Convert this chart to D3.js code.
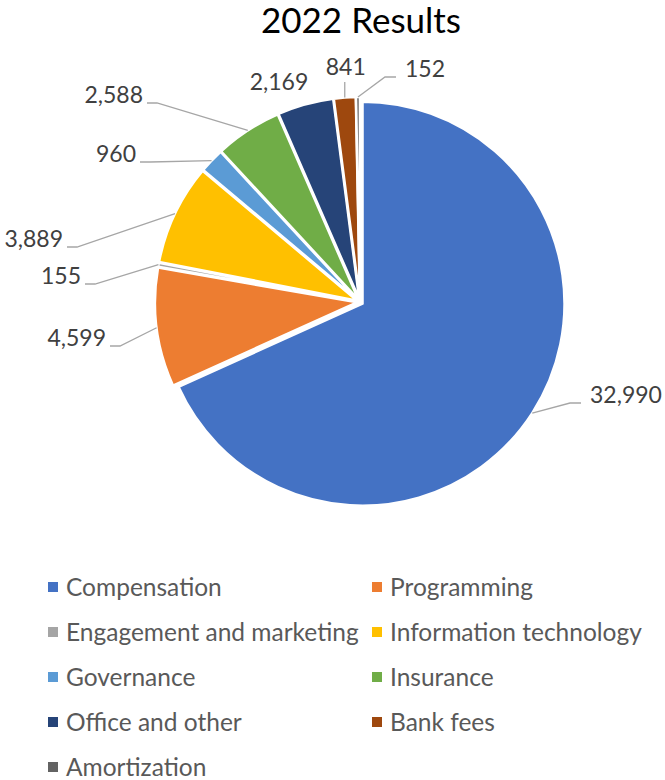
<!DOCTYPE html>
<html>
<head>
<title>2022 Results</title>
<script src="https://d3js.org/d3.v7.min.js"></script>
<style>
    body { margin: 0; background: #fff; }
    text { font-family: Lato, "Open Sans", sans-serif; }
</style>
</head>
<body>
<div id="chart"></div>
<script>
    // data
    const categories = ["Compensation", "Programming", "Engagement and marketing", "Information technology",
        "Governance", "Insurance", "Office and other", "Bank fees", "Amortization"];
    const values = [32990, 4599, 155, 3889, 960, 2588, 2169, 841, 152];
    const colors = ["#4472C4", "#ED7D31", "#A5A5A5", "#FFC000", "#5B9BD5", "#70AD47", "#264478", "#9E480E", "#636363"];

    // where each data label sits (leader elbow, side of text)
    const labelLayout = [
        { ex: 570, ey: 403, side: 1 },
        { ex: 120, ey: 346, side: -1 },
        { ex: 95, ey: 284, side: -1 },
        { ex: 77, ey: 247, side: -1 },
        { ex: 150, ey: 162, side: -1 },
        { ex: 157, ey: 103, side: -1 },
        { ex: 279, ey: 90, side: 0 },
        { ex: 345, ey: 82, side: 0 },
        { ex: 385, ey: 77, side: 1 }
    ];

    const width = 665, height = 780;
    const cx = 360, cy = 302, r = 202, explode = 3;

    const svg = d3.select("#chart").append("svg")
        .attr("width", width)
        .attr("height", height);

    svg.append("text")
        .attr("x", 361).attr("y", 33)
        .attr("text-anchor", "middle")
        .style("font-size", "35px")
        .attr("fill", "#000")
        .text("2022 Results");

    const pie = d3.pie().sort(null).value(d => d)(values);
    const arc = d3.arc().innerRadius(0).outerRadius(r);
    const fmt = d3.format(",");

    const g = svg.append("g").attr("transform", `translate(${cx},${cy})`);

    function offset(d) {
        const a = (d.startAngle + d.endAngle) / 2;
        return [Math.sin(a) * explode, -Math.cos(a) * explode];
    }

    g.selectAll("path.slice")
        .data(pie)
        .join("path")
        .attr("class", "slice")
        .attr("transform", d => `translate(${offset(d)})`)
        .attr("d", arc)
        .attr("fill", (d, i) => colors[i])
        .attr("stroke", "#fff")
        .attr("stroke-width", 2.5)
        .attr("stroke-linejoin", "round");

    // leader lines and labels
    pie.forEach((d, i) => {
        const a = (d.startAngle + d.endAngle) / 2;
        const o = offset(d);
        const sx = cx + o[0] + Math.sin(a) * r;
        const sy = cy + o[1] - Math.cos(a) * r;
        const L = labelLayout[i];
        let pts, tx, anchor;
        if (L.side === 1) {
            pts = [[sx, sy], [L.ex, L.ey], [L.ex + 11, L.ey]];
            tx = L.ex + 20; anchor = "start";
        } else if (L.side === -1) {
            pts = [[sx, sy], [L.ex, L.ey], [L.ex - 10, L.ey]];
            tx = L.ex - 14; anchor = "end";
        } else {
            pts = null;
            tx = L.ex; anchor = "middle";
        }
        let ty = L.ey;
        if (i === 7) {
            pts = [[sx, sy], [sx, L.ey]];
            tx = sx + 1; ty = L.ey - 7;
        }
        if (pts) {
            svg.append("path")
                .attr("d", d3.line()(pts))
                .attr("fill", "none")
                .attr("stroke", "#A6A6A6")
                .attr("stroke-width", 1.3);
        }
        svg.append("text")
            .attr("x", tx).attr("y", ty)
            .attr("text-anchor", anchor)
            .style("font-size", "23px")
            .attr("fill", "#404040")
            .text(fmt(values[i]));
    });

    // legend, two columns
    const legend = svg.append("g");
    categories.forEach((c, i) => {
        const col = i % 2, row = Math.floor(i / 2);
        const x = col === 0 ? 48 : 372;
        const y = 587 + row * 45;
        legend.append("rect")
            .attr("x", x).attr("y", y - 5)
            .attr("width", 10).attr("height", 10)
            .attr("fill", colors[i]);
        legend.append("text")
            .attr("x", x + 18).attr("y", y)
            .attr("dy", "0.35em")
            .style("font-size", "24.5px")
            .attr("fill", "#595959")
            .text(c);
    });
</script>
</body>
</html>
